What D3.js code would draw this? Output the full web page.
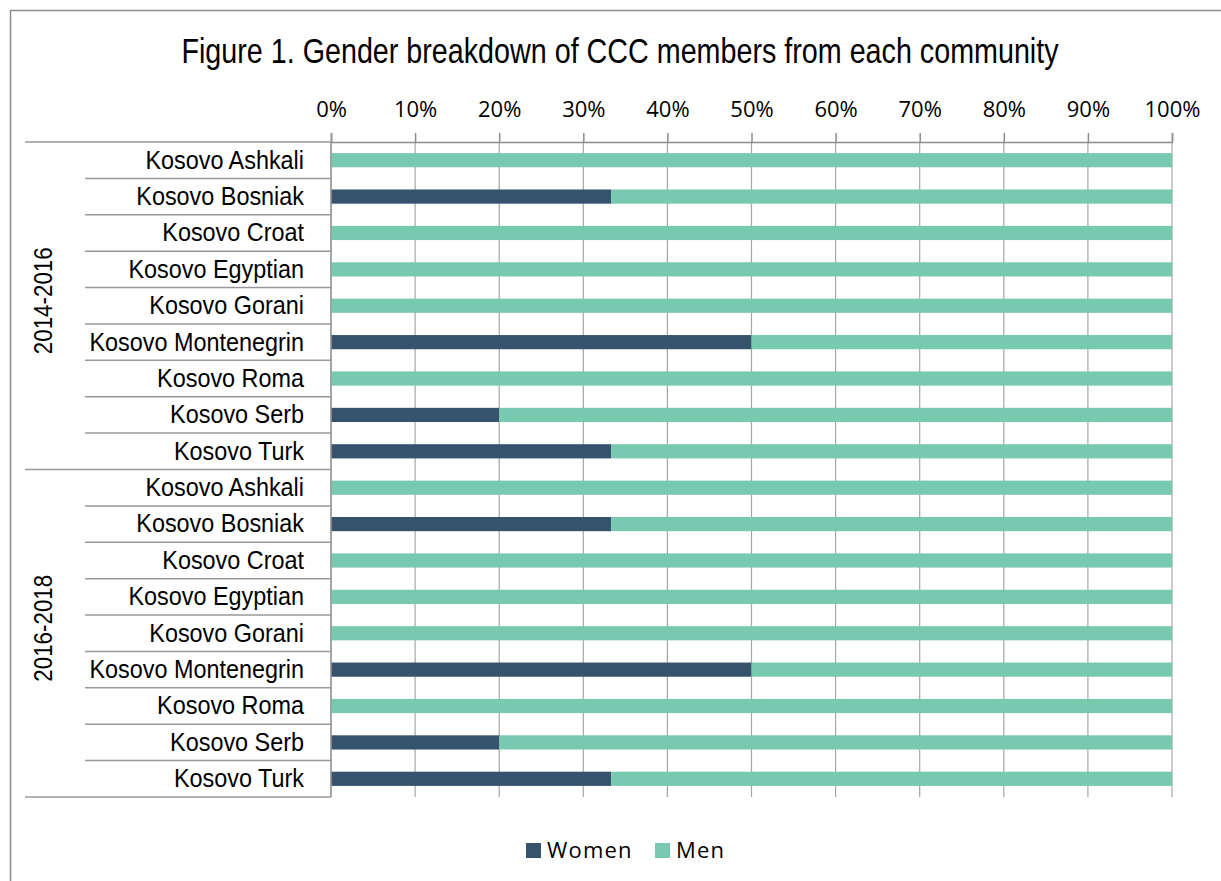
<!DOCTYPE html>
<html>
<head>
<meta charset="utf-8">
<script src="https://cdn.jsdelivr.net/npm/d3@7"></script>
<style>
  body { margin: 0; background: #fff; }
  .narrow { font-family: "Liberation Sans", Arial, sans-serif; }
  .calibri { font-family: "Open Sans", sans-serif; }
</style>
</head>
<body>
<div id="chart"></div>
<script>
const title = 'Figure 1. Gender breakdown of CCC members from each community';
const periods = ['2014-2016', '2016-2018'];
const communities = [
  'Kosovo Ashkali', 'Kosovo Bosniak', 'Kosovo Croat', 'Kosovo Egyptian', 'Kosovo Gorani',
  'Kosovo Montenegrin', 'Kosovo Roma', 'Kosovo Serb', 'Kosovo Turk'
];
// share of women per community, per period
const women2014 = [0, 1 / 3, 0, 0, 0, 0.5, 0, 0.2, 1 / 3];
const women2016 = [0, 1 / 3, 0, 0, 0, 0.5, 0, 0.2, 1 / 3];
const seriesNames = ['Women', 'Men'];
const colors = ['#36536e', '#77c9b0'];
const ticks = d3.range(0, 1.01, 0.1);

const width = 1221, height = 881;
const margin = { left: 331, right: 49, top: 142, bottom: 84 };
// Arial Narrow look-alike: Liberation Sans squeezed horizontally
const narrowScale = 0.82;

const rows = [];
[women2014, women2016].forEach((vals, gi) => {
  communities.forEach((c, i) => {
    rows.push({ key: gi + '-' + i, period: periods[gi], name: c, Women: vals[i], Men: 1 - vals[i] });
  });
});

const svg = d3.select('#chart').append('svg')
  .attr('width', width).attr('height', height);

// outer frame (clipped at right/bottom as in the reference)
svg.append('rect')
  .attr('x', 10.5).attr('y', 10.5)
  .attr('width', width + 20).attr('height', height + 20)
  .attr('fill', 'none').attr('stroke', '#8c8c8c').attr('stroke-width', 1.5);

svg.append('text')
  .attr('class', 'narrow')
  .attr('transform', `translate(620,63) scale(${narrowScale},1)`)
  .attr('text-anchor', 'middle')
  .attr('font-size', 35)
  .attr('fill', '#000')
  .text(title);

const x = d3.scaleLinear().domain([0, 1]).range([margin.left, width - margin.right]);
const y = d3.scaleBand().domain(rows.map(d => d.key))
  .range([margin.top, height - margin.bottom]).paddingInner(0).paddingOuter(0);

const barH = y.bandwidth() * 0.39;

// vertical gridlines
svg.append('g').selectAll('line').data(ticks).join('line')
  .attr('x1', d => x(d)).attr('x2', d => x(d))
  .attr('y1', margin.top).attr('y2', height - margin.bottom)
  .attr('stroke', '#a6a6a6').attr('stroke-width', 1.2);

// top axis
const axis = svg.append('g')
  .attr('transform', `translate(0,${margin.top})`)
  .call(d3.axisTop(x).tickValues(ticks).tickFormat(d3.format('.0%')).tickSize(9).tickPadding(16));
axis.select('.domain').attr('stroke', '#8c8c8c').attr('stroke-width', 1.5);
axis.selectAll('.tick line').attr('stroke', '#8c8c8c').attr('stroke-width', 1.5);
axis.selectAll('.tick text')
  .attr('class', 'calibri')
  .attr('font-size', 22)
  .attr('fill', '#000');

// stacked bars
const stack = d3.stack().keys(seriesNames)(rows);
svg.append('g').selectAll('g').data(stack).join('g')
  .attr('fill', (d, i) => colors[i])
  .selectAll('rect').data(d => d).join('rect')
  .attr('x', d => x(d[0]))
  .attr('width', d => x(d[1]) - x(d[0]))
  .attr('y', d => y(d.data.key) + (y.bandwidth() - barH) / 2)
  .attr('height', barH);

// category axis (left)
const lineColor = '#999';
const boundaries = rows.map(d => y(d.key)).concat([height - margin.bottom]);
svg.append('g').selectAll('line').data(boundaries).join('line')
  .attr('x1', (d, i) => (i % communities.length === 0) ? 25 : 85)
  .attr('x2', margin.left)
  .attr('y1', d => d).attr('y2', d => d)
  .attr('stroke', lineColor).attr('stroke-width', 1.5);

svg.append('line')
  .attr('x1', margin.left).attr('x2', margin.left)
  .attr('y1', margin.top).attr('y2', height - margin.bottom)
  .attr('stroke', lineColor).attr('stroke-width', 1.5);

svg.append('g').selectAll('text').data(rows).join('text')
  .attr('class', 'narrow')
  .attr('transform', d => `translate(304,${y(d.key) + y.bandwidth() / 2 - 1}) scale(0.9,1)`)
  .attr('dy', '0.36em')
  .attr('text-anchor', 'end')
  .attr('font-size', 26)
  .attr('fill', '#000')
  .text(d => d.name);

svg.append('g').selectAll('text').data(periods).join('text')
  .attr('class', 'narrow')
  .attr('transform', p => {
    const first = rows.find(r => r.period === p).key;
    const cy = y(first) + y.bandwidth() * communities.length / 2;
    return `translate(43,${cy - 5}) rotate(-90) scale(0.86,1)`;
  })
  .attr('dy', '0.36em')
  .attr('text-anchor', 'middle')
  .attr('font-size', 26)
  .attr('fill', '#000')
  .text(d => d);

// legend
const legendX = [526, 655];
const legend = svg.append('g').selectAll('g').data(seriesNames).join('g')
  .attr('transform', (d, i) => `translate(${legendX[i]},843)`);
legend.append('rect')
  .attr('width', 15).attr('height', 15)
  .attr('fill', (d, i) => colors[i]);
legend.append('text')
  .attr('class', 'calibri')
  .attr('x', 21).attr('y', 15)
  .attr('font-size', 22)
  .attr('letter-spacing', 1.2)
  .attr('fill', '#000')
  .text(d => d);
</script>
</body>
</html>
